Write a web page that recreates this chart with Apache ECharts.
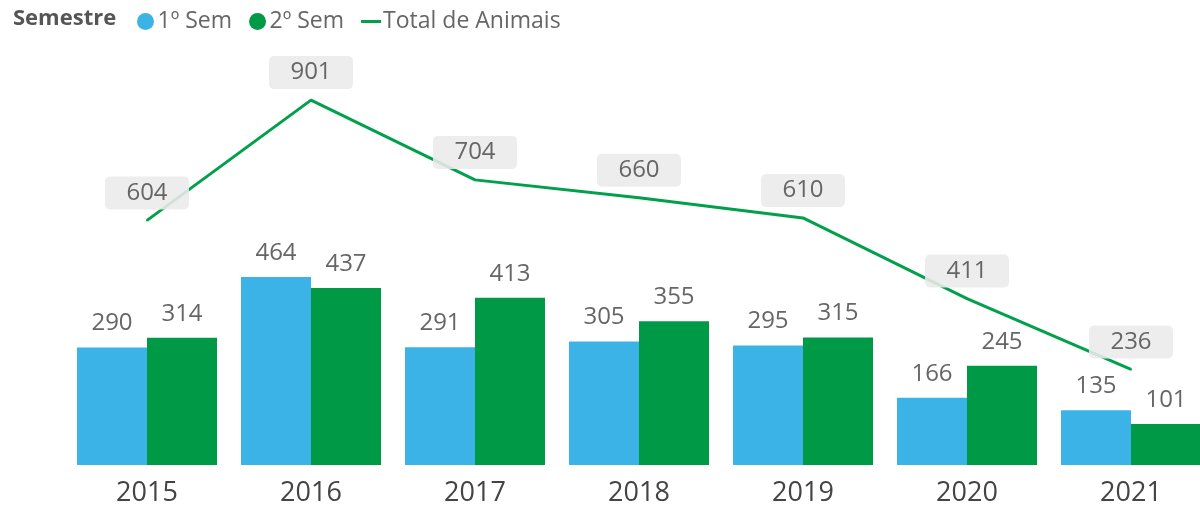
<!DOCTYPE html>
<html><head><meta charset="utf-8">
<script src="https://cdn.jsdelivr.net/npm/echarts@6/dist/echarts.min.js"></script>
<style>html,body{margin:0;padding:0;background:#fff;overflow:hidden;width:1200px;height:507px}#c{width:1230px;height:507px}</style>
</head><body><div id="c"></div>
<script>
const categories = ['2015','2016','2017','2018','2019','2020','2021'];
const sem1 = [290, 464, 291, 305, 295, 166, 135];
const sem2 = [314, 437, 413, 355, 315, 245, 101];
const total = [604, 901, 704, 660, 610, 411, 236];

const font = 'Open Sans';
const labelColor = '#666';
const lineColor = '#00A04C';
const chart = echarts.init(document.getElementById('c'));
chart.setOption({
  animation: false,
  title: { text: 'Semestre', left: 8, top: 3, textStyle: { fontFamily: font, fontSize: 22, fontWeight: 'bold', color: '#555' } },
  legend: {
    left: 132, top: 5, itemGap: 17, itemWidth: 20, itemHeight: 17,
    textStyle: { fontFamily: font, fontSize: 23, color: '#666', padding: [0,0,0,-3] },
    data: [
      { name: '1º Sem', icon: 'circle' },
      { name: '2º Sem', icon: 'circle' },
      { name: 'Total de Animais', icon: 'path://M0,7 L20,7 L20,10 L0,10 Z', itemStyle: { color: lineColor } }
    ]
  },
  grid: { left: 65, width: 1148, top: 60, height: 405 },
  xAxis: {
    type: 'category', data: categories,
    axisLine: { show: false }, axisTick: { show: false },
    axisLabel: { fontFamily: font, fontSize: 27, color: '#444', margin: 15 }
  },
  yAxis: { type: 'value', min: 0, max: 1000, show: false, splitLine: { show: false } },
  series: [
    { name: '1º Sem', type: 'bar', data: sem1, barWidth: 70, barGap: '0%',
      itemStyle: { color: '#3BB3E7' },
      label: { show: true, position: 'top', distance: 12, fontFamily: font, fontSize: 24, color: labelColor } },
    { name: '2º Sem', type: 'bar', data: sem2, barWidth: 70,
      itemStyle: { color: '#009A46' },
      label: { show: true, position: 'top', distance: 12, fontFamily: font, fontSize: 24, color: labelColor } },
    { name: 'Total de Animais', type: 'line', data: total, symbol: 'circle', symbolSize: 2, showSymbol: true, z: 3,
      lineStyle: { color: lineColor, width: 3 }, itemStyle: { color: lineColor },
      label: { show: true, position: 'top', distance: 10, fontFamily: font, fontSize: 24, color: labelColor, lineHeight: 27,
        backgroundColor: 'rgba(234,234,234,0.88)', borderRadius: 5, padding: [3, 20, 3, 20], width: 44, align: 'center' } }
  ]
});
</script></body></html>
